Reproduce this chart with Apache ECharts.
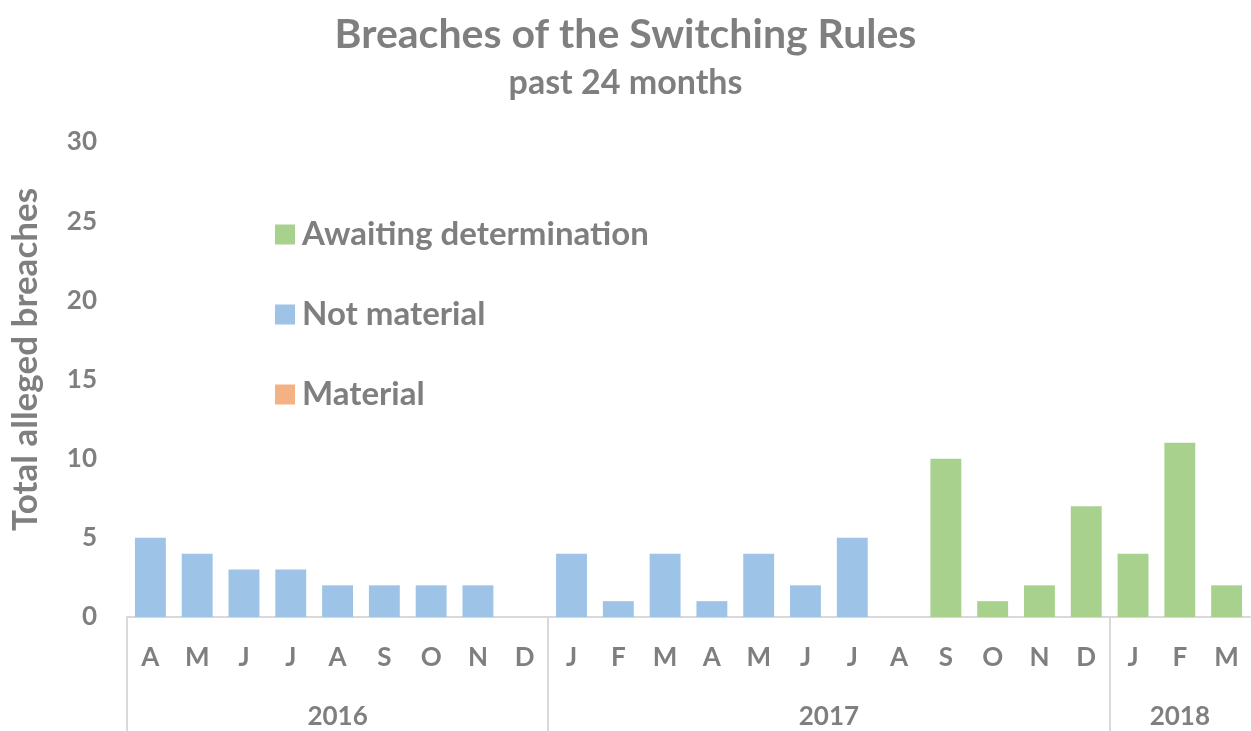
<!DOCTYPE html>
<html>
<head>
<meta charset="utf-8">
<script src="https://cdn.jsdelivr.net/npm/echarts@6/dist/echarts.min.js"></script>
<style>
  html, body { margin: 0; padding: 0; background: #fff; }
  #chart { width: 1251px; height: 731px; }
</style>
</head>
<body>
<div id="chart"></div>
<script>
// months, Apr 2016 .. Mar 2018
var months = ['A', 'M', 'J', 'J', 'A', 'S', 'O', 'N', 'D', 'J', 'F', 'M', 'A', 'M', 'J', 'J', 'A', 'S', 'O', 'N', 'D', 'J', 'F', 'M']
var years = ['2016', '2017', '2018']
var yearStarts = [0, 9, 21] // index of first month in each year
var yearSizes = [9, 12, 3]

var material = [0, 0, 0, 0, 0, 0, 0, 0, 0, 0, 0, 0, 0, 0, 0, 0, 0, 0, 0, 0, 0, 0, 0, 0]
var notMaterial = [5, 4, 3, 3, 2, 2, 2, 2, 0, 4, 1, 4, 1, 4, 2, 5, 0, 0, 0, 0, 0, 0, 0, 0]
var awaiting = [0, 0, 0, 0, 0, 0, 0, 0, 0, 0, 0, 0, 0, 0, 0, 0, 0, 10, 1, 2, 7, 4, 11, 2]

var grey = '#7f7f7f'
var font = 'Lato'

// year label positions = middle of each group on a 0..24 scale
var yearMids = yearStarts.map(function (s, i) { return s + yearSizes[i] / 2 })

var chart = echarts.init(document.getElementById('chart'))
chart.setOption({
  animation: false,
  textStyle: { fontFamily: font, fontWeight: 'bold', color: grey },
  title: [
    {
      text: 'Breaches of the Switching Rules',
      left: 'center',
      top: 9,
      textStyle: { fontFamily: font, fontSize: 41, fontWeight: 'bold', color: grey }
    },
    {
      text: 'past 24 months',
      left: 'center',
      top: 61,
      textStyle: { fontFamily: font, fontSize: 34, fontWeight: 'bold', color: grey }
    }
  ],
  legend: {
    orient: 'vertical',
    left: 270,
    top: 213,
    itemWidth: 20,
    itemHeight: 20,
    itemGap: 47,
    icon: 'rect',
    data: ['Awaiting determination', 'Not material', 'Material'],
    textStyle: { fontFamily: font, fontSize: 33, fontWeight: 'bold', color: grey, padding: [0, 0, 0, 2] }
  },
  grid: { left: 125, right: 1, top: 142, bottom: 114, containLabel: false },
  xAxis: [
    {
      type: 'category',
      data: months,
      axisLine: { lineStyle: { color: '#d9d9d9', width: 2 } },
      axisTick: { show: false },
      axisLabel: { fontFamily: font, fontSize: 26, fontWeight: 'bold', color: grey, margin: 28, interval: 0 }
    },
    {
      type: 'value',
      min: 0,
      max: months.length,
      position: 'bottom',
      splitLine: { show: false },
      axisLine: { show: false },
      axisTick: {
        show: true,
        customValues: yearStarts,
        length: 114,
        inside: false,
        lineStyle: { color: '#d9d9d9', width: 2 }
      },
      axisLabel: {
        customValues: yearMids,
        margin: 87,
        fontFamily: font,
        fontSize: 26,
        fontWeight: 'bold',
        color: grey,
        formatter: function (v) {
          var i = yearMids.indexOf(v)
          return i >= 0 ? years[i] : ''
        }
      }
    }
  ],
  yAxis: {
    type: 'value',
    min: 0,
    max: 30,
    interval: 5,
    name: 'Total alleged breaches',
    nameLocation: 'middle',
    nameGap: 84,
    nameTextStyle: { fontFamily: font, fontSize: 35, fontWeight: 'bold', color: grey, padding: [0, 0, 0, 40] },
    splitLine: { show: false },
    axisLine: { show: false },
    axisTick: { show: false },
    axisLabel: { fontFamily: font, fontSize: 26, fontWeight: 'bold', color: grey, margin: 30 }
  },
  series: [
    {
      name: 'Material',
      type: 'bar',
      stack: 'total',
      xAxisIndex: 0,
      data: material,
      barWidth: '66%',
      itemStyle: { color: '#f4b183' }
    },
    {
      name: 'Not material',
      type: 'bar',
      stack: 'total',
      xAxisIndex: 0,
      data: notMaterial,
      barWidth: '66%',
      itemStyle: { color: '#9dc3e6' }
    },
    {
      name: 'Awaiting determination',
      type: 'bar',
      stack: 'total',
      xAxisIndex: 0,
      data: awaiting,
      barWidth: '66%',
      itemStyle: { color: '#a9d18e' }
    }
  ]
})
</script>
</body>
</html>
